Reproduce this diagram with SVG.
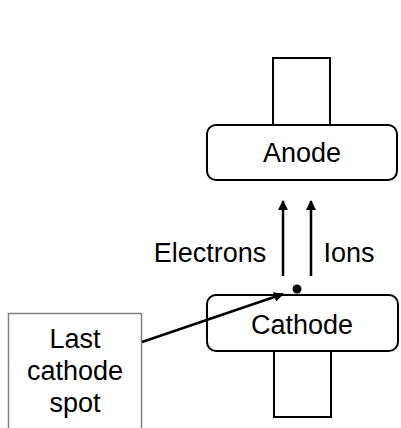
<svg xmlns="http://www.w3.org/2000/svg" width="401" height="428" viewBox="0 0 401 428">
  <style>
    .body { fill: #ffffff; stroke: #000000; stroke-width: 2; }
    .label { font-family: "Liberation Sans", Arial, sans-serif; font-size: 27px; fill: #000000; text-anchor: middle; }
    .flow { stroke: #000000; stroke-width: 2.5; fill: none; }
  </style>
  <defs>
    <marker id="arrowHead" viewBox="0 0 10 10" refX="9" refY="5" markerWidth="4" markerHeight="4" orient="auto" markerUnits="strokeWidth">
      <path d="M0,0 L10,5 L0,10 z" fill="#000000"/>
    </marker>
  </defs>
  <rect width="401" height="428" fill="#ffffff"/>

  <!-- Anode electrode: stem and body -->
  <g id="anode">
    <rect class="body" x="273" y="58" width="57" height="67"/>
    <rect class="body" x="207" y="125" width="190" height="55" rx="9" ry="9"/>
    <text class="label" x="302" y="162">Anode</text>
  </g>

  <!-- Cathode electrode: body and stem -->
  <g id="cathode">
    <rect class="body" x="274" y="351" width="57" height="66"/>
    <rect class="body" x="207" y="295" width="191" height="56" rx="9" ry="9"/>
    <text class="label" x="302" y="334">Cathode</text>
  </g>

  <!-- Emission point on the cathode surface -->
  <g id="spot">
    <circle cx="297" cy="289" r="4.5" fill="#000000"/>
  </g>

  <!-- Callout box -->
  <g id="last-spot">
    <rect x="8.5" y="313.5" width="133" height="120" fill="#ffffff" stroke="#808080" stroke-width="1.5"/>
    <text class="label" x="75" y="348">Last</text>
    <text class="label" x="75" y="380">cathode</text>
    <text class="label" x="75" y="412">spot</text>
  </g>

  <!-- Particle flows and callout pointer -->
  <g id="connectors">
    <line class="flow" x1="283" y1="276" x2="283" y2="201" marker-end="url(#arrowHead)"/>
    <line class="flow" x1="311" y1="276" x2="311" y2="201" marker-end="url(#arrowHead)"/>
    <line class="flow" x1="142" y1="342" x2="283" y2="294" marker-end="url(#arrowHead)"/>
    <text class="label" x="210" y="262">Electrons</text>
    <text class="label" x="349" y="262">Ions</text>
  </g>
</svg>
